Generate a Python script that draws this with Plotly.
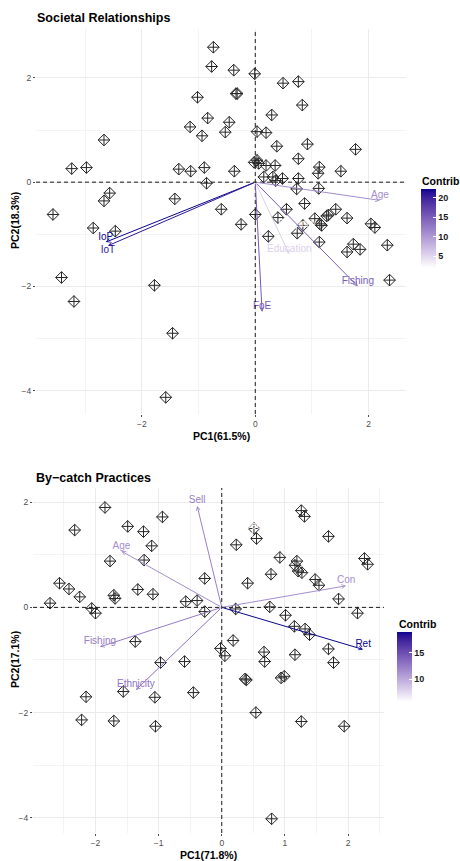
import plotly.graph_objects as go

# ---------------- data: Societal Relationships ----------------
TOP_PC1 = [-0.74, -0.77, -0.38, -0.34, -0.32, -1.02, -0.84, -0.46, -1.15, -0.53,
           -0.94, -2.67, -3.24, -2.98, -1.35, -1.14, -0.90, -0.37, -0.86, -2.57,
           -2.67, -1.42, -0.01, 0.49, 0.76, 0.83, 0.29, 0.03, 0.19, 0.38,
           0.92, 1.77, 0.76, -0.02, 0.03, 0.06, 0.19, 0.35, 1.13, 1.11,
           1.51, 0.15, 0.31, 0.48, 0.36, 0.76, 0.73, 1.12, 0.87, 0.55,
           0.40, 1.42, 1.26, 1.29, 1.05, 1.62, 0.00, -0.60, -3.57, -0.25,
           -2.86, -2.47, -3.42, -3.20, -1.78, -1.46, -1.58, 0.23, 0.74, 0.84,
           1.14, 1.17, 1.13, 1.73, 1.62, 1.85, 2.04, 2.11, 2.33, 2.37]
TOP_PC2 = [2.59, 2.22, 2.15, 1.70, 1.70, 1.63, 1.23, 1.15, 1.06, 0.96,
           0.89, 0.81, 0.26, 0.28, 0.25, 0.21, 0.28, 0.21, -0.02, -0.21,
           -0.36, -0.32, 2.08, 1.90, 1.93, 1.48, 1.29, 0.97, 0.95, 0.69,
           0.73, 0.63, 0.45, 0.38, 0.42, 0.36, 0.32, 0.32, 0.29, 0.17,
           0.21, 0.10, 0.10, 0.07, 0.03, 0.07, -0.13, -0.12, -0.41, -0.52,
           -0.68, -0.52, -0.65, -0.63, -0.70, -0.69, -0.62, -0.52, -0.62, -0.81,
           -0.88, -0.94, -1.83, -2.29, -1.98, -2.90, -4.13, -1.04, -0.98, -0.83,
           -0.80, -0.83, -1.15, -1.19, -1.34, -1.29, -0.80, -0.87, -1.21, -1.88]
TOP_VARS = ["Age", "IoP", "IoT", "Ethnicity", "Education", "Fishing", "FoE"]
TOP_VAR_PC1 = [2.20, -2.64, -2.60, 0.74, 0.60, 1.81, 0.12]
TOP_VAR_PC2 = [-0.35, -1.15, -1.22, -0.90, -1.38, -2.00, -2.49]
TOP_CONTRIB = [11.0, 22.3, 21.0, 1.9, 5.5, 15.0, 15.5]
TOP_LABEL_POS = ["top center", "top center", "bottom center", "top center",
                 "top center", "top center", "top center"]

# ---------------- data: By-catch Practices ----------------
BOT_PC1 = [-1.85, -0.94, -2.33, -1.49, -1.24, -1.11, -1.77, -1.23, -0.27, -2.57,
           -2.42, -2.25, -1.71, -1.69, -1.33, -1.09, -0.57, -0.39, -2.72, -2.06,
           -2.00, -0.27, -1.37, -0.02, 0.05, 1.26, 1.31, 0.51, 0.55, 1.69,
           0.23, 0.92, 1.19, 1.16, 1.21, 1.27, 2.26, 2.31, 0.78, 0.41,
           1.48, 1.54, 1.85, 0.22, 0.76, 2.15, 1.01, 1.15, 1.32, 1.39,
           0.18, 0.67, 1.16, 1.69, 0.68, 1.77, -0.97, -0.59, 0.37, 0.39,
           0.94, 0.99, -1.56, -1.06, -2.15, -0.45, 0.54, -2.22, -1.71, -1.05,
           1.26, 1.94, 0.79]
BOT_PC2 = [1.90, 1.72, 1.47, 1.54, 1.44, 1.17, 0.88, 0.90, 0.55, 0.46,
           0.35, 0.20, 0.23, 0.17, 0.34, 0.25, 0.11, 0.13, 0.08, -0.02,
           -0.11, -0.08, -0.65, -0.78, -0.92, 1.84, 1.73, 1.50, 1.31, 1.35,
           1.19, 0.95, 0.88, 0.80, 0.69, 0.66, 0.93, 0.82, 0.63, 0.46,
           0.53, 0.42, 0.16, -0.03, 0.01, -0.11, -0.15, -0.36, -0.41, -0.52,
           -0.63, -0.85, -0.90, -0.79, -1.03, -1.05, -1.05, -1.03, -1.36, -1.38,
           -1.34, -1.31, -1.60, -1.71, -1.70, -1.62, -2.00, -2.14, -2.16, -2.26,
           -2.17, -2.26, -4.02]
BOT_VARS = ["Sell", "Age", "Dec", "Con", "Ret", "Fishing", "Ethnicity"]
BOT_VAR_PC1 = [-0.39, -1.59, 0.49, 1.97, 2.24, -1.93, -1.36]
BOT_VAR_PC2 = [1.93, 1.07, 1.44, 0.41, -0.80, -0.75, -1.57]
BOT_CONTRIB = [12.3, 11.5, 5.6, 11.5, 19.0, 12.5, 13.0]
BOT_LABEL_POS = ["top center"] * 7

TOP_TITLE = "Societal Relationships"
BOT_TITLE = "By\u2212catch Practices"
TOP_XLAB, TOP_YLAB = "PC1(61.5%)", "PC2(18.3%)"
BOT_XLAB, BOT_YLAB = "PC1(71.8%)", "PC2(17.1%)"

FONT = "Liberation Sans, Arial, sans-serif"
W, H = 460, 861


# ---------- white -> darkblue gradient interpolated in CIELAB (like ggplot) ----------
def _to_lin(c):
    c = c / 255
    return c / 12.92 if c <= 0.04045 else ((c + 0.055) / 1.055) ** 2.4


def _from_lin(c):
    c = 12.92 * c if c <= 0.0031308 else 1.055 * (max(c, 0) ** (1 / 2.4)) - 0.055
    return int(round(max(0, min(1, c)) * 255))


WHITE_REF = (0.95047, 1.0, 1.08883)


def _f(t):
    return t ** (1 / 3) if t > 0.008856 else 7.787 * t + 16 / 116


def _finv(t):
    return t ** 3 if t ** 3 > 0.008856 else (t - 16 / 116) / 7.787


def hex_to_lab(h):
    r, g, b = (_to_lin(int(h[i:i + 2], 16)) for i in (1, 3, 5))
    X = 0.4124 * r + 0.3576 * g + 0.1805 * b
    Y = 0.2126 * r + 0.7152 * g + 0.0722 * b
    Z = 0.0193 * r + 0.1192 * g + 0.9505 * b
    fx, fy, fz = _f(X / WHITE_REF[0]), _f(Y / WHITE_REF[1]), _f(Z / WHITE_REF[2])
    return (116 * fy - 16, 500 * (fx - fy), 200 * (fy - fz))


def lab_to_hex(L, a, b):
    fy = (L + 16) / 116
    fx = fy + a / 500
    fz = fy - b / 200
    X, Y, Z = _finv(fx) * WHITE_REF[0], _finv(fy) * WHITE_REF[1], _finv(fz) * WHITE_REF[2]
    r = 3.2406 * X - 1.5372 * Y - 0.4986 * Z
    g = -0.9689 * X + 1.8758 * Y + 0.0415 * Z
    bb = 0.0557 * X - 0.2040 * Y + 1.0570 * Z
    return "#%02x%02x%02x" % (_from_lin(r), _from_lin(g), _from_lin(bb))


LOW, HIGH = hex_to_lab("#FFFFFF"), hex_to_lab("#0A0490")


def grad(t):
    t = max(0.0, min(1.0, t))
    return lab_to_hex(*[LOW[i] + (HIGH[i] - LOW[i]) * t for i in range(3)])


COLORSCALE = [[i / 20, grad(i / 20)] for i in range(21)]

fig = go.Figure()


def add_panel(n, pc1, pc2, vars_, vx, vy, contrib, lpos, xdom, ydom, xr, yr,
              xtick, xminor, cb_x, cb_y, cb_len, cb_ticks):
    xa = "x" if n == 1 else "x%d" % n
    ya = "y" if n == 1 else "y%d" % n
    ca = "coloraxis" if n == 1 else "coloraxis%d" % n
    cmin, cmax = min(contrib), max(contrib)
    fig.add_shape(type="line", xref=xa, yref=ya + " domain", x0=0, x1=0, y0=0, y1=1,
                  line=dict(color="#1a1a1a", width=1, dash="4px,3px"))
    fig.add_shape(type="line", xref=xa + " domain", yref=ya, x0=0, x1=1, y0=0, y1=0,
                  line=dict(color="#1a1a1a", width=1, dash="4px,3px"))
    fig.add_trace(go.Scatter(
        x=pc1, y=pc2, mode="markers", xaxis=xa, yaxis=ya, showlegend=False,
        marker=dict(symbol="diamond-cross-open", size=9, color="#262626",
                    line=dict(width=1, color="#262626")),
        hoverinfo="skip"))
    cols = [grad((c - cmin) / (cmax - cmin)) for c in contrib]
    for i in range(len(vars_)):
        fig.add_annotation(x=vx[i], y=vy[i], ax=0, ay=0, xref=xa, yref=ya,
                           axref=xa, ayref=ya, text="", showarrow=True,
                           arrowhead=5, arrowsize=0.75, arrowwidth=1,
                           arrowcolor=cols[i], standoff=0)
    fig.add_trace(go.Scatter(
        x=vx, y=vy, mode="text", text=vars_, textposition=lpos,
        textfont=dict(family=FONT, size=10, color=cols), xaxis=xa, yaxis=ya,
        showlegend=False, hoverinfo="skip"))
    # invisible carrier for the colour bar
    fig.add_trace(go.Scatter(
        x=vx, y=vy, mode="markers", xaxis=xa, yaxis=ya, showlegend=False,
        hoverinfo="skip",
        marker=dict(color=contrib, coloraxis=ca, size=1, opacity=0)))
    fig.update_layout(**{ca: dict(
        colorscale=COLORSCALE, cmin=cmin, cmax=cmax,
        colorbar=dict(x=cb_x, xanchor="left", y=cb_y, yanchor="middle",
                      len=cb_len, lenmode="pixels", thickness=15,
                      xpad=0, ypad=0, outlinewidth=0,
                      tickvals=cb_ticks, ticks="inside", ticklen=3,
                      tickcolor="white",
                      tickfont=dict(family=FONT, size=9, color="#1a1a1a",
                                    weight="bold")))})
    axcommon = dict(showgrid=True, gridcolor="#ebebeb", gridwidth=1,
                    zeroline=False, showline=False, ticks="outside", ticklen=2,
                    tickcolor="#4d4d4d", tickfont=dict(family=FONT, size=8.5, color="#4d4d4d"))
    xkey = "xaxis" if n == 1 else "xaxis%d" % n
    ykey = "yaxis" if n == 1 else "yaxis%d" % n
    fig.update_layout(**{
        xkey: dict(domain=xdom, range=xr, anchor=ya, dtick=xtick, tick0=0,
                   minor=dict(dtick=xminor, tick0=0, showgrid=True,
                              gridcolor="#f3f3f3", gridwidth=0.7, ticks=""),
                   **axcommon),
        ykey: dict(domain=ydom, range=yr, anchor=xa, dtick=2, tick0=0,
                   minor=dict(dtick=1, tick0=0, showgrid=True,
                              gridcolor="#f3f3f3", gridwidth=0.7, ticks=""),
                   **axcommon)})


add_panel(1, TOP_PC1, TOP_PC2, TOP_VARS, TOP_VAR_PC1, TOP_VAR_PC2, TOP_CONTRIB,
          TOP_LABEL_POS,
          [36 / W, 406 / W], [1 - 414 / H, 1 - 29 / H], [-3.87, 2.66], [-4.45, 2.94],
          2, 1, 421 / W, 1 - 228.5 / H, 79, [5, 10, 15, 20])
add_panel(2, BOT_PC1, BOT_PC2, BOT_VARS, BOT_VAR_PC1, BOT_VAR_PC2, BOT_CONTRIB,
          BOT_LABEL_POS,
          [33 / W, 384 / W], [1 - 833 / H, 1 - 488 / H], [-2.99, 2.57], [-4.29, 2.27],
          1, 0.5, 397 / W, 1 - 667 / H, 70, [10, 15])


def txt(text, xpx, ypx, size, bold=True, xanchor="left", angle=0, color="black"):
    fig.add_annotation(x=xpx / W, y=1 - ypx / H, xref="paper", yref="paper",
                       text=("<b>%s</b>" % text) if bold else text, showarrow=False,
                       xanchor=xanchor, yanchor="middle", textangle=angle,
                       font=dict(family=FONT, size=size, color=color))


txt(TOP_TITLE, 35, 18, 12.5)
txt(BOT_TITLE, 34, 478, 12.5)
txt(TOP_XLAB, 221, 436, 10.5, xanchor="center")
txt(TOP_YLAB, 15, 221, 10.5, xanchor="center", angle=-90)
txt(BOT_XLAB, 208, 855, 10.5, xanchor="center")
txt(BOT_YLAB, 15, 660, 10.5, xanchor="center", angle=-90)
txt("Contrib", 420, 181, 10.5)
txt("Contrib", 397, 624, 10.5)

fig.update_layout(width=W, height=H, margin=dict(l=0, r=0, t=0, b=0),
                  paper_bgcolor="white", plot_bgcolor="white", showlegend=False,
                  font=dict(family=FONT))
fig.write_html("out.html")
